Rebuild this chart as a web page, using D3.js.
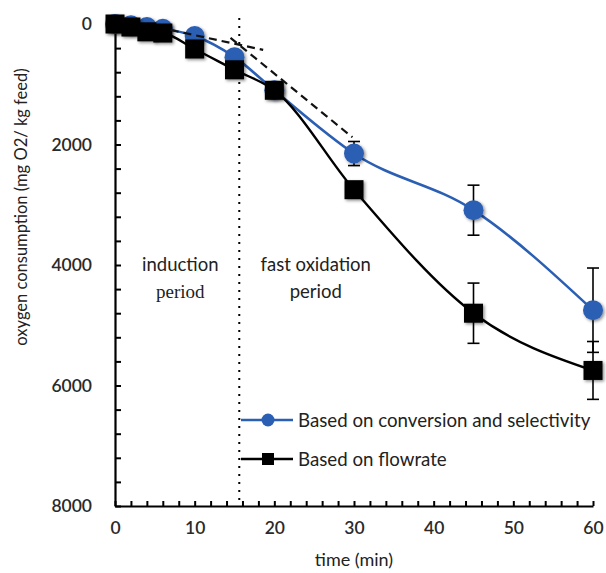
<!DOCTYPE html>
<html>
<head>
<meta charset="utf-8">
<script src="https://cdn.jsdelivr.net/npm/d3@7"></script>
<style>
  body { margin: 0; background: #fff; }
  svg { display: block; }
</style>
</head>
<body>
<svg id="drawing_region"></svg>
<script>
const times = [0, 2, 4, 6, 10, 15, 20, 30, 45, 60];
const conv_values = [0, 20, 50, 80, 200, 550, 1100, 2150, 3090, 4750];
const conv_errors = [0, 0, 0, 0, 0, 0, 0, 200, 415, 700];
const flow_values = [0, 50, 130, 150, 415, 760, 1100, 2750, 4800, 5750];
const flow_errors = [0, 0, 0, 0, 0, 0, 0, 0, 500, 480];

// tangent lines (dashed) and end of induction period
const tangent1_t = [7, 18.6];
const tangent1_v = [100, 430];
const tangent2_t = [14.5, 29.8];
const tangent2_v = [230, 1880];
const onset_time = 15.6;

const x_ticks = [0, 10, 20, 30, 40, 50, 60];
const y_ticks = [0, 2000, 4000, 6000, 8000];
const series_names = ['Based on conversion and selectivity', 'Based on flowrate'];

const config = {
    parent: '#drawing_region',
    width: 606,
    height: 573,
    margin: {top: 24, right: 13, bottom: 67, left: 115}
};

const blue = '#2b5fb4';
const font = 'Lato, "Open Sans", sans-serif';

const svg = d3.select(config.parent)
    .attr('width', config.width)
    .attr('height', config.height);

const inner_width = config.width - config.margin.left - config.margin.right;
const inner_height = config.height - config.margin.top - config.margin.bottom;

const defs = svg.append('defs');
const shadow = defs.append('filter').attr('id', 'shadow')
    .attr('x', '-50%').attr('y', '-50%').attr('width', '200%').attr('height', '200%');
shadow.append('feDropShadow')
    .attr('dx', 1.5).attr('dy', 1.5)
    .attr('stdDeviation', 1.6)
    .attr('flood-color', '#000')
    .attr('flood-opacity', 0.45);

const chart = svg.append('g')
    .attr('transform', `translate(${config.margin.left}, ${config.margin.top})`);

const xscale = d3.scaleLinear().domain([0, 60]).range([0, inner_width]);
const yscale = d3.scaleLinear().domain([0, 8000]).range([0, inner_height]);

// axes: all ticks point inwards, labels only on the major ticks
const xaxis = d3.axisBottom(xscale)
    .tickValues(d3.range(0, 61, 2))
    .tickSize(-5)
    .tickSizeOuter(0)
    .tickPadding(16)
    .tickFormat(d => x_ticks.includes(d) ? d : '');

const yaxis = d3.axisLeft(yscale)
    .tickValues(d3.range(0, 8001, 400))
    .tickSize(-6)
    .tickSizeOuter(0)
    .tickPadding(23)
    .tickFormat(d => y_ticks.includes(d) ? d : '');

const xaxis_group = chart.append('g')
    .attr('transform', `translate(0, ${inner_height})`)
    .call(xaxis);
const yaxis_group = chart.append('g').call(yaxis);

[xaxis_group, yaxis_group].forEach(g => {
    g.select('.domain').attr('stroke', '#000').attr('stroke-width', 2.2);
    g.selectAll('.tick line').attr('stroke', '#000').attr('stroke-width', 2);
    g.selectAll('.tick text')
        .attr('font-family', font)
        .attr('font-size', '17.5px')
        .attr('font-weight', 600)
        .attr('fill', '#2a2a2a');
});

// axis titles
svg.append('text')
    .attr('x', config.margin.left + xscale(30))
    .attr('y', 566)
    .attr('text-anchor', 'middle')
    .attr('font-family', font)
    .attr('font-size', '18px')
    .attr('fill', '#222')
    .text('time (min)');

svg.append('text')
    .attr('transform', 'translate(27, 207) rotate(-90)')
    .attr('text-anchor', 'middle')
    .attr('font-family', font)
    .attr('font-size', '16.5px')
    .attr('fill', '#222')
    .text('oxygen consumption (mg O2/ kg feed)');

// end of induction period
chart.append('line')
    .attr('x1', xscale(onset_time)).attr('x2', xscale(onset_time))
    .attr('y1', -6).attr('y2', inner_height)
    .attr('stroke', '#000')
    .attr('stroke-width', 2)
    .attr('stroke-dasharray', '2,6');

// region labels
const region = chart.append('g')
    .attr('font-size', '18.5px')
    .attr('fill', '#222')
    .attr('text-anchor', 'middle');
region.append('text')
    .attr('x', xscale(8.2)).attr('y', yscale(4000) + 6)
    .attr('font-family', font)
    .text('induction');
region.append('text')
    .attr('x', xscale(8.2)).attr('y', yscale(4450) + 6)
    .attr('font-family', '"Liberation Serif", serif')
    .attr('font-size', '19px')
    .text('period');
region.append('text')
    .attr('x', xscale(25.2)).attr('y', yscale(4000) + 6)
    .attr('font-family', font)
    .text('fast oxidation');
region.append('text')
    .attr('x', xscale(25.2)).attr('y', yscale(4450) + 6)
    .attr('font-family', font)
    .text('period');

const line = d3.line()
    .x(d => xscale(d.t))
    .y(d => yscale(d.v))
    .curve(d3.curveMonotoneX);

const conv = times.map((t, i) => ({t: t, v: conv_values[i], e: conv_errors[i]}));
const flow = times.map((t, i) => ({t: t, v: flow_values[i], e: flow_errors[i]}));

function draw_errors(data, color) {
    const g = chart.append('g').attr('stroke', color).attr('stroke-width', 1.6);
    data.filter(d => d.e > 0).forEach(d => {
        const x = xscale(d.t);
        const y0 = yscale(d.v - d.e), y1 = yscale(d.v + d.e);
        g.append('line').attr('x1', x).attr('x2', x).attr('y1', y0).attr('y2', y1);
        g.append('line').attr('x1', x - 6).attr('x2', x + 6).attr('y1', y0).attr('y2', y0);
        g.append('line').attr('x1', x - 6).attr('x2', x + 6).attr('y1', y1).attr('y2', y1);
    });
}

draw_errors(conv, '#000');
draw_errors(flow, '#000');

// blue series
chart.append('path')
    .attr('d', line(conv))
    .attr('fill', 'none')
    .attr('stroke', blue)
    .attr('stroke-width', 2.6);
chart.append('g').selectAll('circle')
    .data(conv)
    .join('circle')
    .attr('cx', d => xscale(d.t))
    .attr('cy', d => yscale(d.v))
    .attr('r', 10)
    .attr('fill', blue)
    .attr('filter', 'url(#shadow)');

// black series
chart.append('path')
    .attr('d', line(flow))
    .attr('fill', 'none')
    .attr('stroke', '#000')
    .attr('stroke-width', 2.4);
chart.append('g').selectAll('rect')
    .data(flow)
    .join('rect')
    .attr('x', d => xscale(d.t) - 9.5)
    .attr('y', d => yscale(d.v) - 9.5)
    .attr('width', 19)
    .attr('height', 19)
    .attr('fill', '#000')
    .attr('filter', 'url(#shadow)');

// dashed tangents
[[tangent1_t, tangent1_v], [tangent2_t, tangent2_v]].forEach(([ts, vs]) => {
    chart.append('line')
        .attr('x1', xscale(ts[0])).attr('y1', yscale(vs[0]))
        .attr('x2', xscale(ts[1])).attr('y2', yscale(vs[1]))
        .attr('stroke', '#111')
        .attr('stroke-width', 2.2)
        .attr('stroke-dasharray', '8,5');
});

// legend
const legend = svg.append('g').attr('transform', 'translate(241, 420)');
legend.append('line')
    .attr('x1', 0).attr('x2', 52).attr('y1', 0).attr('y2', 0)
    .attr('stroke', blue).attr('stroke-width', 2.6);
legend.append('circle')
    .attr('cx', 27).attr('cy', 0).attr('r', 6.5)
    .attr('fill', blue);
legend.append('line')
    .attr('x1', 0).attr('x2', 52).attr('y1', 39).attr('y2', 39)
    .attr('stroke', '#000').attr('stroke-width', 2.4);
legend.append('rect')
    .attr('x', 21).attr('y', 33).attr('width', 12).attr('height', 12)
    .attr('fill', '#000');
legend.selectAll('text')
    .data(series_names)
    .join('text')
    .attr('x', 57)
    .attr('y', (d, i) => i * 39 + 6.5)
    .attr('font-family', font)
    .attr('font-size', '18.7px')
    .attr('fill', '#222')
    .text(d => d);
</script>
</body>
</html>
